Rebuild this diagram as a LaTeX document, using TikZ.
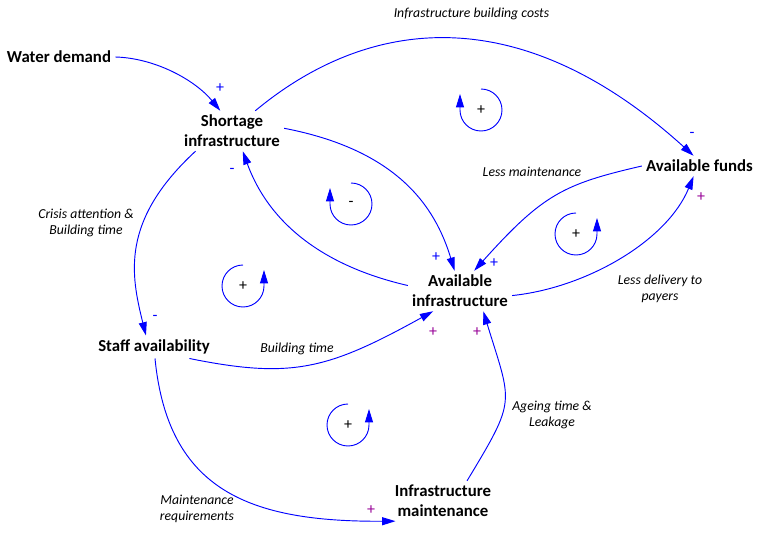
\documentclass[tikz,border=0pt]{standalone}
\usepackage{fontspec}
\setmainfont{Carlito}
\usetikzlibrary{arrows.meta}
\definecolor{lnkc}{RGB}{0,0,255}
\definecolor{polp}{RGB}{150,0,150}
\begin{document}
\begin{tikzpicture}[x=0.75pt,y=0.75pt,
  var/.style={align=center,font=\bfseries\fontsize{12.6}{15}\selectfont,inner sep=3pt},
  lbl/.style={align=center,font=\itshape\fontsize{10.3}{12}\selectfont,inner sep=0pt},
  link/.style={draw=lnkc,line width=0.7pt,-{Triangle[length=10pt,width=6pt]}},
  loopar/.style={draw=lnkc,line width=0.7pt,-{Triangle[length=10pt,width=6pt]}},
  sgn/.style={font=\fontsize{12}{12}\selectfont,inner sep=0pt,text=lnkc},
  sgnp/.style={font=\fontsize{12}{12}\selectfont,inner sep=0pt,text=polp},
  lsg/.style={font=\fontsize{12}{12}\selectfont,inner sep=0pt,text=black}]
\useasboundingbox (0,0) rectangle (765,-542);

% variables
\node[var] (wd) at (59,-57) {Water demand};
\node[var] (sh) at (232,-131) {Shortage\\infrastructure};
\node[var] (af) at (699.5,-166) {Available funds};
\node[var] (ai) at (460,-291) {Available\\infrastructure};
\node[var] (sa) at (154,-347) {Staff availability};
\node[var] (im) at (443,-501) {Infrastructure\\maintenance};

% links
\draw[link] (wd.east) .. controls (155,-58) and (195,-80) .. (sh.120);
\draw[link] (sh.41) .. controls (373,-13) and (524,-2) .. (af.120);
\draw[link] (sh.3) .. controls (397,-150) and (435,-206) .. (ai.105);
\draw[link] (ai.174) .. controls (327,-267) and (270,-226) .. (sh.-62);
\draw[link] (af.west) .. controls (564,-184) and (543,-194) .. (ai.55);
\draw[link] (ai.-5) .. controls (586,-288) and (667,-241) .. (af.-120);
\draw[link] (sh.-151) .. controls (120,-221) and (131,-275) .. (sa.125);
\draw[link] (sa.-18) .. controls (291,-379) and (327,-370) .. (ai.-143);
\draw[link] (sa.-85) .. controls (168,-491) and (250,-522) .. (im.-157);
\draw[link] (im.40) .. controls (517,-398) and (512,-405) .. (ai.-41);

% link labels
\node[lbl] (t1) at (471.5,-14) {Infrastructure building costs};
\node[lbl] (t2) at (532,-172) {Less maintenance};
\node[lbl] (t3) at (86,-222.5) {Crisis attention \&\\Building time};
\node[lbl] (t4) at (660,-288.5) {Less delivery to\\payers};
\node[lbl] (t5) at (297,-349) {Building time};
\node[lbl] (t6) at (552,-414.5) {Ageing time \&\\Leakage};
\node[lbl] (t7) at (197,-509) {Maintenance\\requirements};

% polarities
\node[sgn] (p1) at (220,-88) {+};
\node[sgn] (p2) at (692,-135) {-};
\node[sgn] (p3) at (232,-171) {-};
\node[sgn] (p4) at (436,-257) {+};
\node[sgn] (p5) at (494,-263) {+};
\node[sgnp] (p6) at (701,-197) {+};
\node[sgnp] (p7) at (433,-332) {+};
\node[sgnp] (p8) at (477,-332) {+};
\node[sgn] (p9) at (155,-318) {-};
\node[sgnp] (p10) at (371,-510) {+};

% loop markers
\node[lsg] (l1) at (481,-110) {+};
\node[lsg] (l2) at (351,-204) {-};
\node[lsg] (l3) at (243,-286) {+};
\node[lsg] (l4) at (576,-234) {+};
\node[lsg] (l5) at (348,-425) {+};
\draw[loopar] ([yshift=15.75pt]l1.center) arc[start angle=90,end angle=-180,radius=21] -- ++(0,16);
\draw[loopar] ([yshift=15.75pt]l2.center) arc[start angle=90,end angle=-180,radius=21] -- ++(0,16);
\draw[loopar] ([yshift=15.75pt]l3.center) arc[start angle=90,end angle=360,radius=21] -- ++(0,16);
\draw[loopar] ([yshift=15.75pt]l4.center) arc[start angle=90,end angle=360,radius=21] -- ++(0,16);
\draw[loopar] ([yshift=15.75pt]l5.center) arc[start angle=90,end angle=360,radius=21] -- ++(0,16);
\end{tikzpicture}
\end{document}
